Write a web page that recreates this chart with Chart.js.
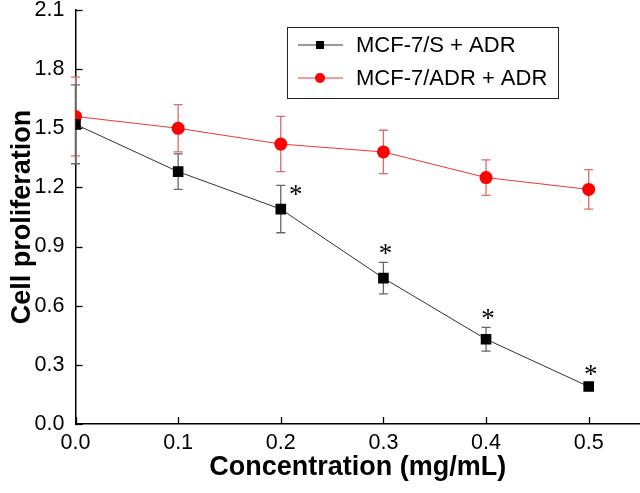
<!DOCTYPE html>
<html>
<head>
<meta charset="utf-8">
<script src="https://cdn.jsdelivr.net/npm/chart.js@4"></script>
<style>
  body { margin: 0; background: #fff; }
  #wrap { width: 640px; height: 493px; }
</style>
</head>
<body>
<div id="wrap"><canvas id="chart" width="640" height="493"></canvas></div>
<script>
const concentrations = [0, 0.1, 0.2, 0.3, 0.4, 0.5];
const sensitiveLabel = "MCF-7/S + ADR";
const sensitiveMean = [1.52, 1.28, 1.09, 0.74, 0.43, 0.19];
const sensitiveErr = [0.2, 0.09, 0.12, 0.08, 0.06, 0.02];
const resistantLabel = "MCF-7/ADR + ADR";
const resistantMean = [1.56, 1.50, 1.42, 1.38, 1.25, 1.19];
const resistantErr = [0.2, 0.12, 0.14, 0.11, 0.09, 0.10];
// indexes of the black series marked with *
const significant = [2, 3, 4, 5];
const xTicks = [0, 0.1, 0.2, 0.3, 0.4, 0.5];
const yTicks = [0, 0.3, 0.6, 0.9, 1.2, 1.5, 1.8, 2.1];

const FONT = "'Liberation Sans', Arial, sans-serif";

const toPoints = (ys) => concentrations.map((x, i) => ({ x: x, y: ys[i] }));

const errorBars = {
    id: "errorBars",
    beforeDatasetsDraw(chart) {
        const ctx = chart.ctx;
        const xs = chart.scales.x, ys = chart.scales.y;
        const sets = [
            { mean: resistantMean, err: resistantErr, color: "#e06a6a" },
            { mean: sensitiveMean, err: sensitiveErr, color: "#666666" },
        ];
        ctx.save();
        sets.forEach((s) => {
            ctx.strokeStyle = s.color;
            ctx.lineWidth = 1.3;
            concentrations.forEach((c, i) => {
                const px = xs.getPixelForValue(c);
                const top = ys.getPixelForValue(s.mean[i] + s.err[i]);
                const bot = ys.getPixelForValue(s.mean[i] - s.err[i]);
                ctx.beginPath();
                ctx.moveTo(px, top); ctx.lineTo(px, bot);
                ctx.moveTo(px - 4.5, top); ctx.lineTo(px + 4.5, top);
                ctx.moveTo(px - 4.5, bot); ctx.lineTo(px + 4.5, bot);
                ctx.stroke();
            });
        });
        ctx.restore();
    },
    afterDraw(chart) {
        const ctx = chart.ctx;
        const xs = chart.scales.x, ys = chart.scales.y;
        ctx.save();
        // inward tick marks
        ctx.strokeStyle = "#000";
        ctx.lineWidth = 1.3;
        const area = chart.chartArea;
        xTicks.forEach((v) => {
            const px = Math.round(xs.getPixelForValue(v)) + 0.5;
            ctx.beginPath(); ctx.moveTo(px, area.bottom); ctx.lineTo(px, area.bottom - 7); ctx.stroke();
        });
        yTicks.forEach((v) => {
            const py = Math.round(ys.getPixelForValue(v)) + 0.5;
            ctx.beginPath(); ctx.moveTo(area.left, py); ctx.lineTo(area.left + 7, py); ctx.stroke();
        });

        // significance asterisks
        ctx.fillStyle = "#000";
        ctx.font = "27px 'Liberation Serif', serif";
        ctx.textAlign = "center";
        ctx.textBaseline = "alphabetic";
        significant.forEach((i) => {
            let px = xs.getPixelForValue(concentrations[i]) + 2;
            let py = ys.getPixelForValue(sensitiveMean[i] + sensitiveErr[i]);
            if (i === 2) { px += 13; py += 5; } else { py -= 13; }
            ctx.fillText("*", px, py + 13);
        });

        // legend box
        const bx = 287, by = 27, bw = 271, bh = 71;
        ctx.strokeStyle = "#222";
        ctx.lineWidth = 1;
        ctx.strokeRect(bx + 0.5, by + 0.5, bw, bh);
        ctx.font = "22px " + FONT;
        ctx.textAlign = "left";
        ctx.textBaseline = "middle";
        chart.data.datasets.forEach((ds, k) => {
            const ly = by + 18 + k * 33;
            ctx.strokeStyle = ds.borderColor;
            ctx.lineWidth = 1;
            ctx.beginPath(); ctx.moveTo(bx + 11, ly); ctx.lineTo(bx + 56, ly); ctx.stroke();
            ctx.fillStyle = ds.pointBackgroundColor;
            if (ds.pointStyle === "rect") {
                ctx.fillRect(bx + 33 - 4, ly - 4, 8, 8);
            } else {
                ctx.beginPath(); ctx.arc(bx + 33, ly, 5, 0, Math.PI * 2); ctx.fill();
            }
            ctx.fillStyle = "#000";
            ctx.fillText(ds.label, bx + 69, ly + 1);
        });
        ctx.restore();
    },
};

const ctx = document.getElementById("chart").getContext("2d");
const chart = new Chart(ctx, {
    type: "scatter",
    data: {
        datasets: [
            {
                label: sensitiveLabel,
                data: toPoints(sensitiveMean),
                showLine: true,
                borderColor: "#333333",
                borderWidth: 1,
                pointStyle: "rect",
                pointRadius: 7.5,
                pointBackgroundColor: "#000000",
                pointBorderColor: "#000000",
                pointBorderWidth: 0,
            },
            {
                label: resistantLabel,
                data: toPoints(resistantMean),
                showLine: true,
                borderColor: "#e8383a",
                borderWidth: 1,
                pointStyle: "circle",
                pointRadius: 6.5,
                pointBackgroundColor: "#ff0000",
                pointBorderColor: "#ff0000",
                pointBorderWidth: 0,
            },
        ],
    },
    options: {
        responsive: false,
        animation: false,
        events: [],
        layout: { autoPadding: false, padding: { top: 10, right: 0, left: 0, bottom: 0 } },
        plugins: { legend: { display: false }, tooltip: { enabled: false } },
        scales: {
            x: {
                type: "linear",
                min: 0,
                max: 0.55,
                afterBuildTicks: (scale) => { scale.ticks = xTicks.map((v) => ({ value: v })); },
                afterFit: (scale) => {
                    scale.height = 69;
                    scale.paddingLeft = 0;
                    scale.paddingRight = 0;
                },
                grid: { display: false, drawTicks: false },
                border: { display: true, color: "#000", width: 1.5 },
                ticks: {
                    color: "#000",
                    font: { family: FONT, size: 21.5, lineHeight: 1 },
                    padding: 8,
                    maxRotation: 0,
                    callback: (v) => v.toFixed(1),
                },
                title: {
                    display: true,
                    text: "Concentration (mg/mL)",
                    color: "#000",
                    font: { family: FONT, size: 27, weight: "bold" },
                    padding: { top: 4, bottom: 9 },
                },
            },
            y: {
                type: "linear",
                min: 0,
                max: 2.1,
                afterBuildTicks: (scale) => { scale.ticks = yTicks.map((v) => ({ value: v })); },
                afterFit: (scale) => {
                    scale.width = 75.5;
                    scale.paddingTop = 0;
                    scale.paddingBottom = 0;
                },
                grid: { display: false, drawTicks: false },
                border: { display: true, color: "#000", width: 1.5 },
                ticks: {
                    color: "#000",
                    font: { family: FONT, size: 21.5, lineHeight: 1 },
                    padding: 11,
                    callback: (v) => v.toFixed(1),
                },
                title: {
                    display: true,
                    text: "Cell proliferation",
                    color: "#000",
                    font: { family: FONT, size: 27, weight: "bold" },
                    padding: { top: 6, bottom: 4 },
                },
            },
        },
    },
    plugins: [errorBars],
});
</script>
</body>
</html>
